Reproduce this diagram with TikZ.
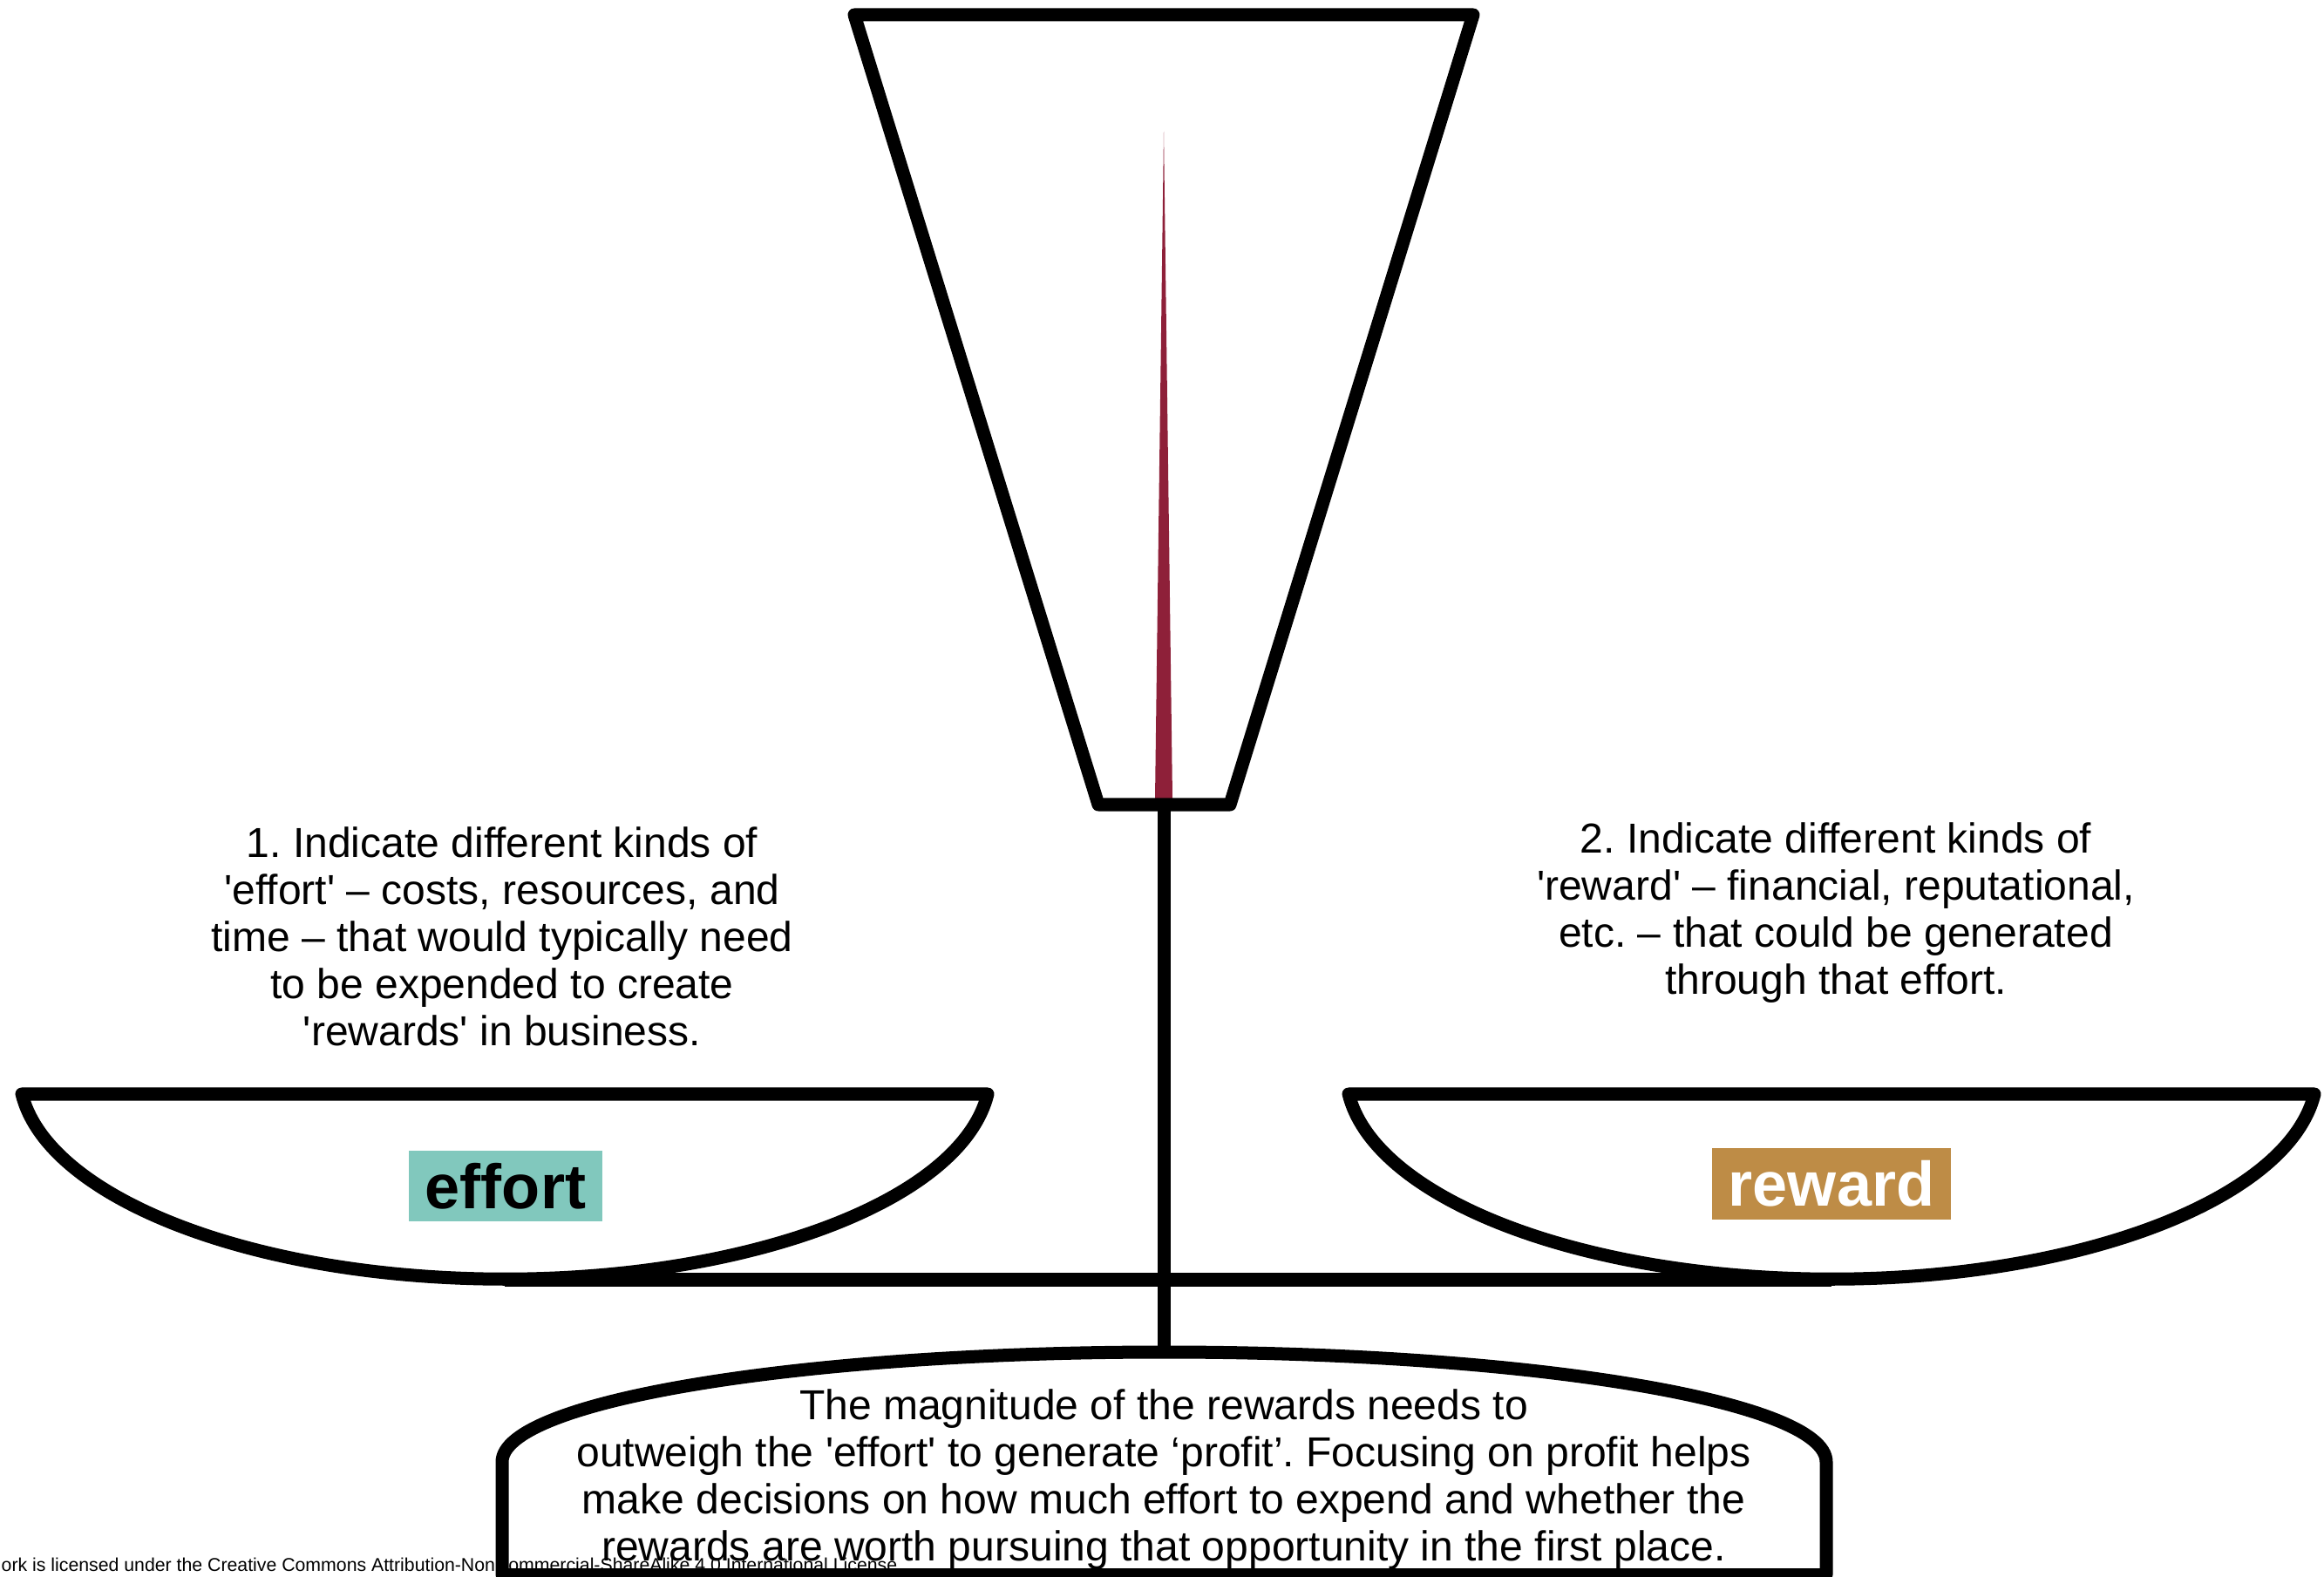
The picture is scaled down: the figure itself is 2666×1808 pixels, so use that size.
\documentclass[tikz,border=0pt]{standalone}
\usepackage{fontspec}
\setmainfont{Liberation Sans}[Ligatures=TeXOff]
\frenchspacing
\definecolor{SCInk}{HTML}{000000}
\definecolor{SCTeal}{HTML}{81C8BD}
\definecolor{SCGold}{HTML}{BE8C46}
\definecolor{SCNeedle}{HTML}{8E2039}
\tikzset{
  frame/.style={draw=SCInk,line width=0.15cm,line join=round},
  note/.style={text=SCInk,font=\fontsize{13.66}{15.36}\selectfont,align=center,inner sep=0pt},
  tag/.style={font=\fontsize{20.5}{24}\selectfont\bfseries,inner sep=0pt,minimum height=0.81cm},
  tagteal/.style={tag,fill=SCTeal,text=SCInk,minimum width=2.22cm},
  taggold/.style={tag,fill=SCGold,text=white,minimum width=2.74cm},
  fineprint/.style={text=SCInk,font=\fontsize{6.05}{7}\selectfont,inner sep=0pt},
}
\begin{document}
\begin{tikzpicture}[x=0.01cm,y=0.01cm]
  \useasboundingbox (0,0) rectangle (2666,1808);
  % dial with its needle
  \fill[SCNeedle] (1325,892) -- (1335,1657) -- (1345,892) -- cycle;
  \draw[frame] (980,1791) -- (1690,1791) -- (1411,885) -- (1260,885) -- cycle;
  % post and beam
  \draw[frame] (1335,885) -- (1335,257);
  \draw[frame] (579,340) -- (2101,340);
  % the two pans
  \draw[frame] (25,553) -- (1133,553)
    arc[start angle=354,end angle=186,x radius=557,y radius=237] -- cycle;
  \draw[frame] (1547,553) -- (2655,553)
    arc[start angle=354,end angle=186,x radius=557,y radius=237] -- cycle;
  \node[tagteal] (effort) at (580,447.5) {effort};
  \node[taggold] (reward) at (2101,450) {reward};
  % notes above the pans
  \node[note] (effortnote) at (576,734)
    {1. Indicate different kinds of\\'effort' – costs, resources, and\\time – that would typically need\\to be expended to create\\'rewards' in business.};
  \node[note] (rewardnote) at (2106,760.5)
    {2. Indicate different kinds of\\'reward' – financial, reputational,\\etc. – that could be generated\\through that effort.};
  % licence line runs under the base
  \node[fineprint,anchor=base west] (licence) at (1,6)
    {ork is licensed under the Creative Commons Attribution-NonCommercial-ShareAlike 4.0 International License.};
  % base of the scale
  \draw[frame] (576,1.5) -- (576,131)
    arc[start angle=180,end angle=0,x radius=759.5,y radius=126] -- (2095,1.5) -- cycle;
  \node[note] (profitnote) at (1335,110.5)
    {The magnitude of the rewards needs to\\outweigh the 'effort' to generate ‘profit’. Focusing on profit helps\\make decisions on how much effort to expend and whether the\\rewards are worth pursuing that opportunity in the first place.};
\end{tikzpicture}
\end{document}
